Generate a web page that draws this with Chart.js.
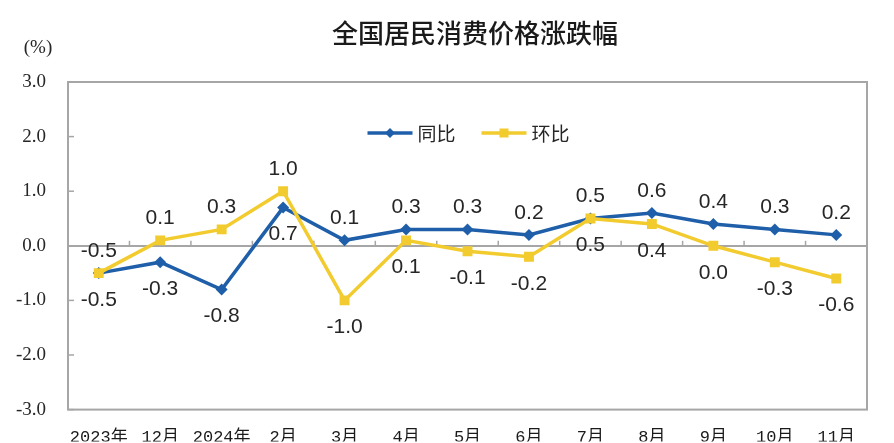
<!DOCTYPE html>
<html lang="zh-CN">
<head>
<meta charset="UTF-8">
<title>全国居民消费价格涨跌幅</title>
<script src="https://cdn.jsdelivr.net/npm/chart.js"></script>
<style>
  body { margin: 0; background: #fff; }
  #wrap { width: 894px; height: 443px; }
</style>
</head>
<body>
<div id="wrap"><canvas id="cpiChart"></canvas></div>
<script>
// months: 2023年11月 .. 2024年11月
const categories = ["2023年", "12月", "2024年", "2月", "3月", "4月", "5月", "6月", "7月", "8月", "9月", "10月", "11月"];
const yoy = [-0.5, -0.3, -0.8, 0.7, 0.1, 0.3, 0.3, 0.2, 0.5, 0.6, 0.4, 0.3, 0.2];   // 同比
const mom = [-0.5, 0.1, 0.3, 1.0, -1.0, 0.1, -0.1, -0.2, 0.5, 0.4, 0.0, -0.3, -0.6]; // 环比
const yoyLabelPos = ["below", "below", "below", "below", "above", "above", "above", "above", "above", "above", "above", "above", "above"];
const momLabelPos = ["above", "above", "above", "above", "below", "below", "below", "below", "below", "below", "below", "below", "below"];
const yTicks = [-3, -2, -1, 0, 1, 2, 3];

const BLUE = "#1f5fa9";
const YELLOW = "#f2cb2e";
const AXIS_GRAY = "#a6a6a6";
const TITLE = "全国居民消费价格涨跌幅";

// box around plot, small tick marks, data labels, legend, title, (%) label
const decorPlugin = {
  id: "decor",
  beforeDatasetsDraw(chart) {
    const { ctx, chartArea: a, scales } = chart;
    const y0 = scales.y.getPixelForValue(0);
    ctx.save();
    ctx.strokeStyle = AXIS_GRAY;
    ctx.lineWidth = 1.5;
    // category boundary marks on zero line
    for (let i = 1; i < categories.length; i++) {
      const x = (scales.x.getPixelForValue(i - 1) + scales.x.getPixelForValue(i)) / 2;
      ctx.beginPath();
      ctx.moveTo(x, y0);
      ctx.lineTo(x, y0 - 5);
      ctx.stroke();
    }
    // y tick marks on left axis
    yTicks.forEach(v => {
      const y = scales.y.getPixelForValue(v);
      ctx.beginPath();
      ctx.moveTo(a.left, y);
      ctx.lineTo(a.left + 6, y);
      ctx.stroke();
    });
    ctx.lineWidth = 2;
    ctx.strokeRect(a.left, a.top, a.right - a.left, a.bottom - a.top);
    ctx.restore();
  },
  afterDatasetsDraw(chart) {
    const { ctx, chartArea: a } = chart;
    ctx.save();
    ctx.font = "21px 'Liberation Sans', Arial, sans-serif";
    ctx.fillStyle = "#262626";
    ctx.textAlign = "center";
    ctx.textBaseline = "middle";
    chart.data.datasets.forEach((ds, di) => {
      const meta = chart.getDatasetMeta(di);
      meta.data.forEach((pt, i) => {
        const dy = ds.labelPos[i] === "above" ? -22 : 27;
        ctx.fillText(ds.data[i].toFixed(1), pt.x, pt.y + dy);
      });
    });

    // legend
    const cy = a.top + 51;
    let x = (a.left + a.right) / 2 - 100;
    ctx.font = "19px 'Noto Sans CJK SC', sans-serif";
    ctx.textAlign = "left";
    chart.data.datasets.forEach(ds => {
      ctx.strokeStyle = ds.borderColor;
      ctx.lineWidth = 3.5;
      ctx.beginPath();
      ctx.moveTo(x, cy);
      ctx.lineTo(x + 45, cy);
      ctx.stroke();
      ctx.fillStyle = ds.borderColor;
      const mx = x + 22.5;
      ctx.beginPath();
      if (ds.pointStyle === "rectRot") {
        ctx.moveTo(mx, cy - 5); ctx.lineTo(mx + 5, cy); ctx.lineTo(mx, cy + 5); ctx.lineTo(mx - 5, cy);
      } else {
        ctx.rect(mx - 4.5, cy - 4.5, 9, 9);
      }
      ctx.fill();
      ctx.fillStyle = "#262626";
      ctx.fillText(ds.label, x + 50, cy + 1);
      x += 50 + ctx.measureText(ds.label).width + 26;
    });

    // title
    ctx.fillStyle = "#1a1a1a";
    ctx.textAlign = "center";
    ctx.font = "500 26px 'Noto Sans CJK SC', sans-serif";
    ctx.fillText(TITLE, 475, 33);

    // unit label
    ctx.fillStyle = "#262626";
    ctx.font = "19px 'Liberation Serif', 'Times New Roman', serif";
    ctx.fillText("(%)", 38, 48);
    ctx.restore();
  }
};

new Chart(document.getElementById("cpiChart"), {
  type: "line",
  data: {
    labels: categories,
    datasets: [
      {
        label: "同比",
        data: yoy,
        labelPos: yoyLabelPos,
        borderColor: BLUE,
        backgroundColor: BLUE,
        borderWidth: 3.5,
        pointStyle: "rectRot",
        pointRadius: 6,
        pointBorderWidth: 0,
        tension: 0,
        order: 2
      },
      {
        label: "环比",
        data: mom,
        labelPos: momLabelPos,
        borderColor: YELLOW,
        backgroundColor: YELLOW,
        borderWidth: 3.5,
        pointStyle: "rect",
        pointRadius: 7,
        pointBorderWidth: 0,
        tension: 0,
        order: 1
      }
    ]
  },
  plugins: [decorPlugin],
  options: {
    responsive: true,
    maintainAspectRatio: false,
    animation: false,
    layout: { padding: { left: 0, right: 27, top: 82, bottom: 0 } },
    plugins: {
      legend: { display: false },
      tooltip: { enabled: false },
      title: { display: false }
    },
    scales: {
      x: {
        type: "category",
        offset: true,
        grid: { display: false, drawTicks: false },
        border: { display: false },
        ticks: {
          color: "#1a1a1a",
          padding: 18,
          maxRotation: 0,
          autoSkip: false,
          font: { family: "'Liberation Mono', 'Noto Sans CJK SC', monospace", size: 17 }
        },
        afterFit(scale) { scale.height = 32; }
      },
      y: {
        min: -3,
        max: 3,
        afterBuildTicks(scale) { scale.ticks = yTicks.map(v => ({ value: v })); },
        grid: {
          drawTicks: false,
          lineWidth: 2,
          color: c => (c.tick && c.tick.value === 0 ? AXIS_GRAY : "rgba(0,0,0,0)")
        },
        border: { display: false },
        ticks: {
          color: "#262626",
          padding: 22,
          font: { family: "'Liberation Serif', 'Times New Roman', serif", size: 19 },
          callback: v => v.toFixed(1)
        },
        afterFit(scale) { scale.width = 68; }
      }
    }
  }
});
</script>
</body>
</html>
